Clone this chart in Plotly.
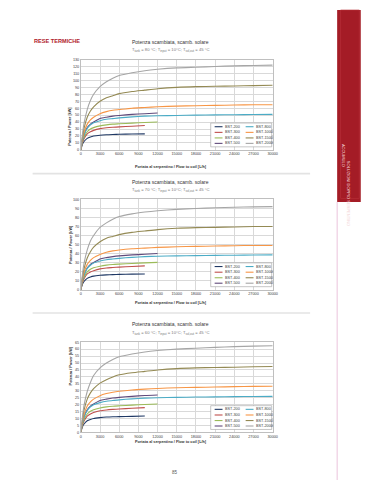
import plotly.graph_objects as go

W, H = 374, 480

# ---------------- data ----------------
flow = [0, 250, 500, 1000, 1500, 2000, 3000, 4000, 5000, 6000, 8000,
        10000, 12000, 15000, 18000, 21000, 24000, 27000, 30000]
models = ["BST-200", "BST-300", "BST-400", "BST-500",
          "BST-800", "BST-1000", "BST-1500", "BST-2000"]
colors = ["#1f3864", "#c0504d", "#9bbb59", "#604a7b",
          "#4bacc6", "#f79646", "#948a54", "#a6a6a6"]
x_ticks = [0, 3000, 6000, 9000, 12000, 15000, 18000, 21000, 24000, 27000, 30000]

# chart 1 : T = 80 °C
c1 = {
    "BST-200": [0, 8, 12, 16.5, 18.5, 19.8, 21, 21.7, 22.1, 22.4, 22.8, 23],
    "BST-300": [0, 10, 16, 23, 26, 28, 30.5, 31.8, 32.5, 33, 34, 35],
    "BST-400": [0, 11, 18, 26, 30, 32, 34.5, 36, 37, 37.5, 38.5, 39.3, 40],
    "BST-500": [0, 13, 22, 32, 37, 40, 45, 47, 48.5, 49.5, 51, 52, 53],
    "BST-800": [0, 13, 21, 31, 36, 39, 42, 44, 45, 46, 47.5, 48.5, 49, 49.5, 50, 50.3, 50.6, 50.8, 51],
    "BST-1000": [0, 15, 25, 37, 43, 47, 52, 55, 57, 58, 60, 61, 62, 63, 63.5, 64, 64.5, 65, 65],
    "BST-1500": [0, 18, 31, 47, 56, 62, 70, 75, 78, 81, 84, 86, 88, 90, 91, 91.5, 92, 92.5, 93],
    "BST-2000": [0, 22, 38, 58, 71, 80, 91, 98, 103, 107, 111, 114, 116, 118, 119, 120, 121, 121.5, 122],
}
# chart 2 : T = 70 °C
c2 = {
    "BST-200": [0, 6, 9, 12.5, 14, 15, 15.9, 16.4, 16.7, 16.9, 17.2, 17.4],
    "BST-300": [0, 7.5, 12, 17.4, 19.6, 21, 23, 24, 24.5, 25, 25.7, 26.4],
    "BST-400": [0, 8.3, 13.6, 19.6, 22.6, 24.2, 26, 27.2, 27.9, 28.3, 29, 29.7, 30.2],
    "BST-500": [0, 10, 16.5, 24, 28, 30, 34, 35.5, 36.6, 37.4, 38.5, 39.2, 40],
    "BST-800": [0, 10, 16, 23.5, 27, 29.5, 31.7, 33.2, 34, 34.7, 35.8, 36.6, 37, 37.4, 37.7, 38, 38.2, 38.4, 38.5],
    "BST-1000": [0, 11, 19, 28, 32.5, 35.5, 39, 41.5, 43, 44, 45.3, 46, 46.8, 47.5, 48, 48.3, 48.7, 49, 49],
    "BST-1500": [0, 14, 23, 35, 42, 47, 53, 57, 59, 61, 63.5, 65, 66.5, 68, 68.7, 69, 69.5, 70, 70],
    "BST-2000": [0, 17, 29, 44, 54, 60, 69, 74, 78, 81, 84, 86, 87.5, 89, 90, 90.7, 91.3, 91.7, 92],
}
# chart 3 : T = 60 °C
c3 = {
    "BST-200": [0, 4.1, 6.1, 8.4, 9.4, 10.1, 10.7, 11.1, 11.3, 11.4, 11.6, 11.8],
    "BST-300": [0, 5.1, 8.2, 11.8, 13.3, 14.3, 15.6, 16.2, 16.6, 16.9, 17.4, 17.9],
    "BST-400": [0, 5.6, 9.2, 13.3, 15.3, 16.4, 17.6, 18.4, 18.9, 19.2, 19.7, 20.1, 20.5],
    "BST-500": [0, 6.6, 11.2, 16.3, 19, 20.5, 23, 24, 24.8, 25.3, 26, 26.6, 27],
    "BST-800": [0, 6.6, 10.8, 15.8, 18.4, 20, 21.5, 22.5, 23, 23.5, 24.2, 24.7, 25, 25.3, 25.5, 25.6, 25.8, 25.9, 26],
    "BST-1000": [0, 7.5, 12.8, 19, 22, 24, 26.5, 28, 29, 29.7, 30.6, 31.2, 31.7, 32.2, 32.5, 32.7, 33, 33.2, 33.3],
    "BST-1500": [0, 9, 16, 24, 28.5, 31.5, 35.5, 38, 40, 41.5, 43, 44, 45, 46, 46.5, 46.8, 47, 47.3, 47.5],
    "BST-2000": [0, 11, 19.5, 29.5, 36, 41, 46.5, 50, 52.5, 54.5, 56.5, 58, 59, 60, 60.7, 61.3, 61.8, 62.2, 62.5],
}

charts = [
    dict(data=c1, ymax=130, dtick=10, tsol="80"),
    dict(data=c2, ymax=100, dtick=10, tsol="70"),
    dict(data=c3, ymax=65, dtick=5, tsol="60"),
]

title_txt = "Potenza scambiata, scamb. solare"
x_title = "Portata al serpentino / Flow to coil [L/h]"
y_title = "Potenza / Power [kW]"

# ---------------- layout geometry (pixels) ----------------
PX0, PX1 = 73, 268                    # plot left/right
tops = [50, 191, 335]                 # plot tops
PH = 91                               # plot height
title_y = [36, 177, 321]              # boundary between title (above) and subtitle (below)

def fx(px):
    return px / W

def fy(py):
    return 1 - py / H

FONT = "Liberation Sans, Arial, sans-serif"

fig = go.Figure()
layout = dict(
    width=W, height=H,
    margin=dict(l=0, r=0, t=0, b=0),
    paper_bgcolor="white", plot_bgcolor="white",
    showlegend=False,
    font=dict(family=FONT, color="#404040", size=4),
)
shapes = []
annotations = []

for i, ch in enumerate(charts):
    n = "" if i == 0 else str(i + 1)
    xa, ya = "x" + n, "y" + n
    top = tops[i]
    bot = top + PH
    layout["xaxis" + n] = dict(
        domain=[fx(PX0), fx(PX1)], anchor=ya, range=[0, 30000],
        tickvals=x_ticks, tickformat="d", ticks="", showgrid=True,
        gridcolor="#d9d9d9", gridwidth=0.7, zeroline=False,
        showline=True, mirror=True, linecolor="#bfbfbf", linewidth=0.7,
        tickfont=dict(size=3.8, color="#404040", family=FONT), fixedrange=True,
    )
    layout["yaxis" + n] = dict(
        domain=[fy(bot), fy(top)], anchor=xa, range=[0, ch["ymax"]],
        dtick=ch["dtick"], ticks="", showgrid=True,
        gridcolor="#d9d9d9", gridwidth=0.7, zeroline=False,
        showline=True, mirror=True, linecolor="#bfbfbf", linewidth=0.7,
        tickfont=dict(size=3.8, color="#404040", family=FONT), fixedrange=True,
    )
    for m, col in zip(models, colors):
        vals = ch["data"][m]
        fig.add_trace(go.Scatter(
            x=flow[:len(vals)], y=vals, mode="lines", name=m,
            line=dict(color=col, width=1.1, shape="spline", smoothing=0.6),
            xaxis=xa, yaxis=ya, hoverinfo="skip",
        ))
    # titles
    annotations.append(dict(x=fx(164), y=fy(title_y[i]), xref="paper", yref="paper",
                            yanchor="bottom", text=title_txt, showarrow=False,
                            borderpad=0,
                            font=dict(size=5, color="#333333", family=FONT)))
    annotations.append(dict(
        x=fx(164), y=fy(title_y[i] + 0.3), xref="paper", yref="paper", yanchor="top",
        borderpad=0,
        text=("T<sub>tank</sub> = " + ch["tsol"] + " °C; T<sub>input</sub> = 10°C; "
              "T<sub>sol,out</sub> = 45 °C"),
        showarrow=False, font=dict(size=4.2, color="#7a7a7a", family=FONT)))
    annotations.append(dict(x=fx(165), y=fy(bot + 13.5), xref="paper", yref="paper",
                            text="<b>" + x_title + "</b>", showarrow=False,
                            font=dict(size=3.8, color="#333333", family=FONT)))
    annotations.append(dict(x=fx(58.5), y=fy(top + PH / 2), xref="paper", yref="paper",
                            text="<b>" + y_title + "</b>", textangle=-90, showarrow=False,
                            font=dict(size=3.8, color="#333333", family=FONT)))
    # legend (drawn compactly, two columns)
    bx0, bx1 = 205, 267
    by0, by1 = bot - 27, bot - 3
    shapes.append(dict(type="rect", xref="paper", yref="paper",
                       x0=fx(bx0), x1=fx(bx1), y0=fy(by1), y1=fy(by0),
                       fillcolor="white", line=dict(color="#a0a0a0", width=0.6),
                       layer="above"))
    rows = [bot - 23.3, bot - 17.6, bot - 12, bot - 6.5]
    for k, (m, col) in enumerate(zip(models, colors)):
        r = rows[k % 4]
        lx0 = 209 if k < 4 else 240.5
        shapes.append(dict(type="line", xref="paper", yref="paper",
                           x0=fx(lx0), x1=fx(lx0 + 8), y0=fy(r), y1=fy(r),
                           line=dict(color=col, width=1.1), layer="above"))
        annotations.append(dict(x=fx(lx0 + 8.8), y=fy(r), xref="paper", yref="paper",
                                xanchor="left", yanchor="middle", text=m,
                                showarrow=False,
                                font=dict(size=3.8, color="#404040", family=FONT)))

# separators between charts
for sy in [165, 305.5]:
    shapes.append(dict(type="line", xref="paper", yref="paper",
                       x0=fx(24), x1=fx(306), y0=fy(sy), y1=fy(sy),
                       line=dict(color="#e3e3e3", width=1.6)))

# right side band and thin pink rule
shapes.append(dict(type="rect", xref="paper", yref="paper",
                   x0=fx(333.5), x1=fx(357.5), y0=fy(193.5), y1=1,
                   fillcolor="#a41c26", line=dict(width=0)))
shapes.append(dict(type="rect", xref="paper", yref="paper",
                   x0=fx(337), x1=fx(356), y0=fy(190), y1=1,
                   fillcolor="rgba(0,0,0,0)", line=dict(color="#b8323b", width=0.6)))
shapes.append(dict(type="line", xref="paper", yref="paper",
                   x0=fx(333.5), x1=fx(333.5), y0=0, y1=fy(193.5),
                   line=dict(color="#e6b3d2", width=0.8)))

annotations.append(dict(x=fx(349.5), y=fy(150), xref="paper", yref="paper",
                        text="SOLUZIONI DOPPIO SERPENTINO", textangle=90, showarrow=False,
                        font=dict(size=4, color="#f3d6d8", family=FONT)))
annotations.append(dict(x=fx(344.5), y=fy(133), xref="paper", yref="paper",
                        text="ACCUMULO", textangle=90, showarrow=False,
                        font=dict(size=4, color="#f3d6d8", family=FONT)))

# header and page number
annotations.append(dict(x=fx(23.5), y=fy(26), xref="paper", yref="paper",
                        xanchor="left", text="<b>RESE TERMICHE</b>", showarrow=False,
                        font=dict(size=5.6, color="#b0202c",
                                  family="Liberation Sans Narrow, Arial Narrow, sans-serif")))
annotations.append(dict(x=fx(169), y=fy(471), xref="paper", yref="paper",
                        text="85", showarrow=False,
                        font=dict(size=4.5, color="#555555", family=FONT)))

layout["shapes"] = shapes
layout["annotations"] = annotations
fig.update_layout(**layout)

fig.write_html("out.html", config={"displayModeBar": False})
